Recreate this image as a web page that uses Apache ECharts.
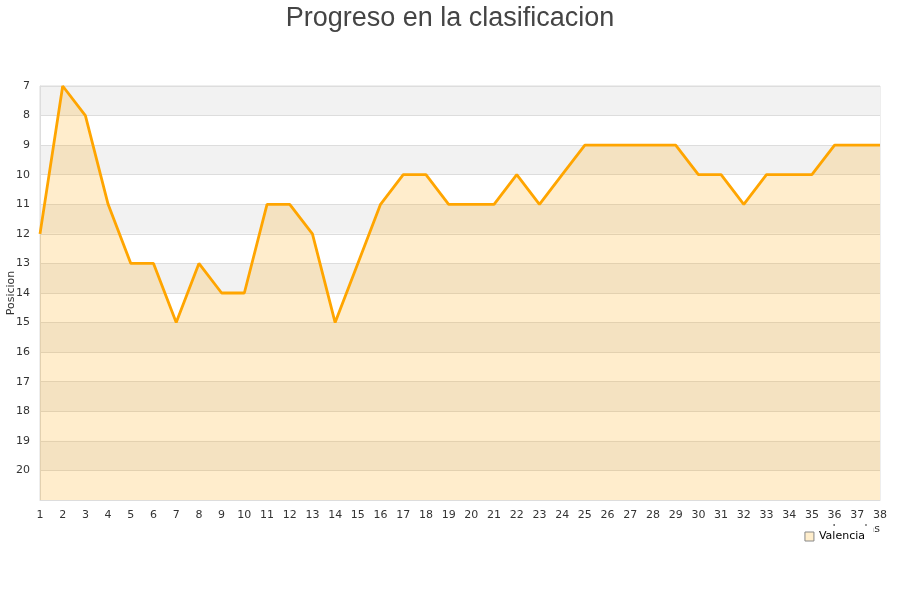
<!DOCTYPE html>
<html><head><meta charset="utf-8">
<script src="https://cdn.jsdelivr.net/npm/echarts@6/dist/echarts.min.js"></script>
<style>html,body{margin:0;padding:0;background:#fff}#c{width:900px;height:600px}</style>
</head><body><div id="c"></div>
<script>
var jornadas = ['1','2','3','4','5','6','7','8','9','10','11','12','13','14','15','16','17','18','19','20','21','22','23','24','25','26','27','28','29','30','31','32','33','34','35','36','37','38'];
var valencia = [12,7,8,11,13,13,15,13,14,14,11,11,12,15,13,11,10,10,11,11,11,10,11,10,9,9,9,9,9,10,10,11,10,10,10,9,9,9];
var chart = echarts.init(document.getElementById('c'));
chart.setOption({
  animation:false,
  title:{text:'Progreso en la clasificacion',left:'center',top:0,textStyle:{fontFamily:'Liberation Sans, Arial',fontSize:27,fontWeight:'normal',color:'#444'}},
  legend:{data:[{name:'Valencia',icon:'rect',itemStyle:{color:'#ffeecc',borderColor:'#888',borderWidth:1}}],right:27,top:526,itemWidth:9,itemHeight:9,itemGap:10,backgroundColor:'#fff',padding:[5,8,6,8],textStyle:{fontFamily:'DejaVu Sans',fontSize:11,color:'#000'}},
  grid:{left:40,right:20,top:86,bottom:100,containLabel:false,outerBoundsMode:'none',show:true,borderColor:'#ddd',borderWidth:1},
  xAxis:{type:'category',data:jornadas,boundaryGap:false,name:'Jornadas',nameLocation:'end',nameGap:0,nameMoveOverlap:false,
    nameTextStyle:{align:'right',verticalAlign:'top',padding:[24,0,0,0],fontFamily:'DejaVu Sans',fontSize:11,color:'#333'},
    axisLine:{lineStyle:{color:'#ddd'}},axisTick:{show:false},
    axisLabel:{interval:0,fontFamily:'DejaVu Sans',fontSize:11,color:'#333',margin:10},splitLine:{show:false}},
  yAxis:{type:'value',inverse:true,min:7,max:21,interval:1,name:'Posicion',nameLocation:'middle',nameGap:23,nameMoveOverlap:false,
    nameTextStyle:{fontFamily:'DejaVu Sans',fontSize:11,color:'#333'},
    axisLine:{show:true,lineStyle:{color:'#ddd'}},axisTick:{show:false},
    axisLabel:{fontFamily:'DejaVu Sans',fontSize:11,color:'#333',margin:10,formatter:function(v){return v===21?'':String(v);}},
    splitLine:{show:true,lineStyle:{color:'#ddd'}},
    splitArea:{show:true,areaStyle:{color:['#f2f2f2','#ffffff']}}},
  series:[{name:'Valencia',type:'line',data:valencia,symbol:'none',
    lineStyle:{color:'#ffa500',width:2.8},itemStyle:{color:'#ffa500'},
    areaStyle:{color:'rgba(255,165,0,0.2)',opacity:1,origin:'end'}}]
});
</script></body></html>
